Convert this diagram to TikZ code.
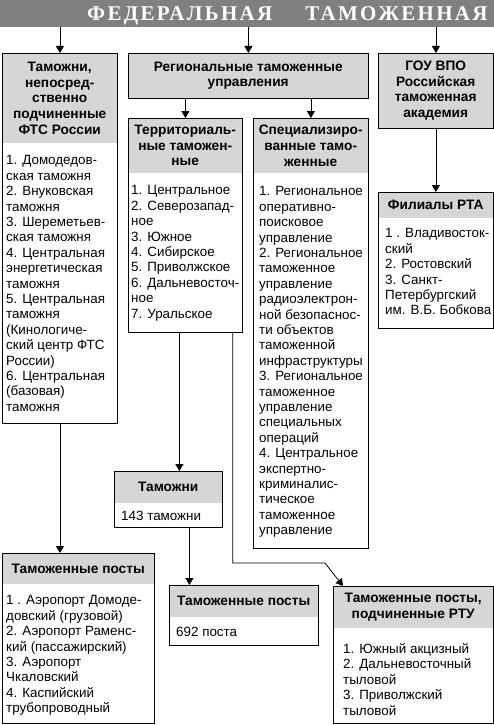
\documentclass[tikz,border=0pt]{standalone}
\usepackage{fontspec}
\setmainfont{Liberation Sans}
\newfontfamily\bannerfont[LetterSpace=11]{Liberation Serif}
\usetikzlibrary{arrows.meta,positioning}
\definecolor{bannergray}{RGB}{128,128,128}
\definecolor{headgray}{RGB}{214,214,214}

\begin{document}
\begin{tikzpicture}[
    x=1pt, y=-1pt,
    every node/.style={font=\fontsize{13.4}{15.4}\selectfont},
    frame/.style={draw, line width=0.8pt, inner sep=0, anchor=north west},
    head/.style={fill=headgray, inner sep=0, anchor=north west, align=center, font=\fontsize{13.7}{15.6}\selectfont\bfseries},
    body/.style={inner sep=0, anchor=north west, align=left},
    arr/.style={-{Triangle[width=8pt,length=7pt]}, line width=0.8pt}
]
\useasboundingbox (0,0) rectangle (494,725);
\node[fill=bannergray, inner sep=0, anchor=north west, minimum width=494pt, minimum height=27pt] (banner) at (0,0) {};
\node[anchor=base west, inner sep=0, text=white, font=\bannerfont\fontsize{21}{21}\selectfont\bfseries] (title) at (87,21) {ФЕДЕРАЛЬНАЯ\hspace{33pt}ТАМОЖЕННАЯ};

\node[head, minimum width=115pt, minimum height=90pt] (fts-h) at (2,53) {Таможни,\\непосред-\\ственно\\подчиненные\\ФТС России};
\node[frame, minimum width=115pt, minimum height=370pt] (fts) at (2,53) {};
\node[body] (fts-b) at ([xshift=4pt, yshift=-12pt]fts-h.south west) {1. Домодедов-\\ская таможня\\2. Внуковская\\таможня\\3. Шереметьев-\\ская таможня\\4. Центральная\\энергетическая\\таможня\\5. Центральная\\таможня\\(Кинологиче-\\ский центр ФТС\\России)\\6. Центральная\\(базовая)\\таможня};

\node[head, minimum width=240pt, minimum height=45pt] (reg-h) at (128,53) {Региональные таможенные\\управления};
\node[frame, minimum width=240pt, minimum height=45pt] (reg) at (128,53) {};

\node[head, minimum width=115pt, minimum height=75pt] (rta-h) at (378,53) {ГОУ ВПО\\Российская\\таможенная\\академия};
\node[frame, minimum width=115pt, minimum height=75pt] (rta) at (378,53) {};

\node[head, minimum width=114pt, minimum height=55pt] (terr-h) at (128,118) {Территориаль-\\ные таможен-\\ные};
\node[frame, minimum width=114pt, minimum height=214pt] (terr) at (128,118) {};
\node[body] (terr-b) at ([xshift=3pt, yshift=-12pt]terr-h.south west) {1. Центральное\\2. Северозапад-\\ное\\3. Южное\\4. Сибирское\\5. Приволжское\\6. Дальневосточ-\\ное\\7. Уральское};

\node[head, minimum width=115pt, minimum height=55pt] (spec-h) at (253,118) {Специализиро-\\ванные тамо-\\женные};
\node[frame, minimum width=115pt, minimum height=430pt] (spec) at (253,118) {};
\node[body] (spec-b) at ([xshift=6pt, yshift=-13pt]spec-h.south west) {1. Региональное\\оперативно-\\поисковое\\управление\\2. Региональное\\таможенное\\управление\\радиоэлектрон-\\ной безопаснос-\\ти объектов\\таможенной\\инфраструктуры\\3. Региональное\\таможенное\\управление\\специальных\\операций\\4. Центральное\\экспертно-\\криминалис-\\тическое\\таможенное\\управление};

\node[head, minimum width=115pt, minimum height=26pt] (fil-h) at (378,192) {Филиалы РТА};
\node[frame, minimum width=115pt, minimum height=136pt] (fil) at (378,192) {};
\node[body] (fil-b) at ([xshift=7pt, yshift=-10pt]fil-h.south west) {1 . Владивосток-\\ский\\2. Ростовский\\3. Санкт-\\Петербургский\\им. В.Б. Бобкова};

\node[head, minimum width=108pt, minimum height=32pt] (tam-h) at (114,471) {Таможни};
\node[frame, minimum width=108pt, minimum height=56pt] (tam) at (114,471) {};
\node[body] (tam-b) at ([xshift=7pt, yshift=-8pt]tam-h.south west) {143 таможни};

\node[head, minimum width=152pt, minimum height=31pt] (post-h) at (2,553) {Таможенные посты};
\node[frame, minimum width=152pt, minimum height=170pt] (post) at (2,553) {};
\node[body] (post-b) at ([xshift=4pt, yshift=-11pt]post-h.south west) {1 . Аэропорт Домоде-\\довский (грузовой)\\2. Аэропорт Раменс-\\кий (пассажирский)\\3. Аэропорт\\Чкаловский\\4. Каспийский\\трубопроводный};

\node[head, minimum width=149pt, minimum height=32pt] (post2-h) at (169,585) {Таможенные посты};
\node[frame, minimum width=149pt, minimum height=60pt] (post2) at (169,585) {};
\node[body] (post2-b) at ([xshift=7pt, yshift=-10pt]post2-h.south west) {692 поста};

\node[head, minimum width=160pt, minimum height=42pt] (rtu-h) at (333,586) {Таможенные посты,\\подчиненные РТУ};
\node[frame, minimum width=160pt, minimum height=137pt] (rtu) at (333,586) {};
\node[body] (rtu-b) at ([xshift=10pt, yshift=-15pt]rtu-h.south west) {1. Южный акцизный\\2. Дальневосточный\\тыловой\\3. Приволжский\\тыловой};

\coordinate (turn) at (325,563);
\draw[arr] (banner.south -| fts.north) -- (fts.north);
\draw[arr] (banner.south -| reg.north) -- (reg.north);
\draw[arr] (banner.south -| rta.north) -- (rta.north);
\draw[arr] (reg.south -| terr.north) -- (terr.north);
\draw[arr] (reg.south -| spec.north) -- (spec.north);
\draw[arr] (rta.south) -- (rta.south |- fil.north);
\draw[arr] (fts.south) -- (fts.south |- post.north);
\draw[arr] ([xshift=-6pt]terr.south) -- ([xshift=-6pt]terr.south |- tam.north);
\draw[arr] ([xshift=21pt]tam.south) -- ([xshift=21pt]tam.south |- post2.north);
\draw[arr] ([xshift=-10pt]terr.south east) |- (turn) -- ([xshift=10pt]rtu.north west);
\end{tikzpicture}
\end{document}
